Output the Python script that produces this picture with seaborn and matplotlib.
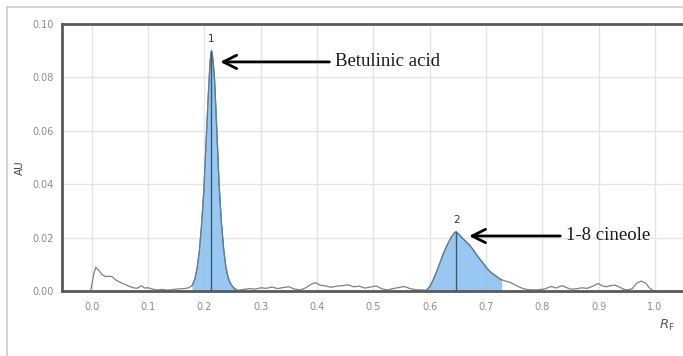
import numpy as np
import pandas as pd
import matplotlib
matplotlib.use("Agg")
import matplotlib.pyplot as plt
from matplotlib.lines import Line2D
import seaborn as sns

# ---------------- data ----------------
rf = [-0.002, 0.003, 0.007, 0.012, 0.018, 0.024, 0.030, 0.036, 0.042, 0.050,
      0.058, 0.066, 0.074, 0.080, 0.088, 0.094, 0.100, 0.106, 0.115, 0.125,
      0.135, 0.145, 0.155, 0.165, 0.172,
      0.178, 0.183, 0.187, 0.191, 0.195, 0.199, 0.203, 0.207, 0.210, 0.2125,
      0.215, 0.218, 0.222, 0.226, 0.230, 0.234, 0.238, 0.242, 0.247, 0.252, 0.256,
      0.262, 0.270, 0.280, 0.290, 0.300, 0.310, 0.320, 0.330, 0.340, 0.350,
      0.360, 0.370, 0.380, 0.390, 0.398, 0.405, 0.415, 0.425, 0.435, 0.445,
      0.455, 0.465, 0.475, 0.485, 0.495, 0.505, 0.515, 0.525, 0.535, 0.545,
      0.555, 0.565, 0.575, 0.585, 0.594,
      0.600, 0.606, 0.612, 0.618, 0.624, 0.631, 0.638, 0.644, 0.647, 0.652,
      0.658, 0.664, 0.671, 0.678, 0.686, 0.695, 0.703, 0.711, 0.718, 0.724, 0.728,
      0.735, 0.742, 0.750, 0.758, 0.766, 0.775, 0.785, 0.795, 0.805, 0.812,
      0.817, 0.824, 0.830, 0.835, 0.842, 0.850, 0.860, 0.870, 0.880, 0.890,
      0.899, 0.907, 0.914, 0.921, 0.929, 0.937, 0.945, 0.952, 0.960, 0.968,
      0.976, 0.984, 0.990, 0.996, 1.000]
au = [0.0, 0.0060, 0.0089, 0.0078, 0.0062, 0.0054, 0.0055, 0.0054, 0.0042, 0.0033,
      0.0025, 0.0018, 0.0012, 0.0010, 0.0019, 0.0011, 0.0012, 0.0008, 0.0004, 0.0006,
      0.0003, 0.0006, 0.0008, 0.0009, 0.0012,
      0.0020, 0.0045, 0.0085, 0.0150, 0.0250, 0.0380, 0.0560, 0.0740, 0.0860, 0.0900,
      0.0870, 0.0790, 0.0600, 0.0400, 0.0260, 0.0160, 0.0090, 0.0050, 0.0025, 0.0012, 0.0006,
      0.0003, 0.0006, 0.0009, 0.0007, 0.0012, 0.0010, 0.0015, 0.0009, 0.0013, 0.0016,
      0.0007, 0.0004, 0.0012, 0.0026, 0.0031, 0.0022, 0.0019, 0.0014, 0.0018, 0.0020,
      0.0023, 0.0016, 0.0018, 0.0011, 0.0015, 0.0019, 0.0008, 0.0004, 0.0009, 0.0013,
      0.0017, 0.0009, 0.0005, 0.0004, 0.0003,
      0.0015, 0.0040, 0.0070, 0.0104, 0.0138, 0.0172, 0.0200, 0.0218, 0.0222, 0.0212,
      0.0198, 0.0186, 0.0172, 0.0152, 0.0128, 0.0104, 0.0082, 0.0066, 0.0056, 0.0046, 0.0042,
      0.0037, 0.0033, 0.0025, 0.0016, 0.0009, 0.0005, 0.0004, 0.0005, 0.0008, 0.0014,
      0.0017, 0.0011, 0.0016, 0.0020, 0.0014, 0.0007, 0.0008, 0.0012, 0.0010, 0.0018,
      0.0028, 0.0019, 0.0016, 0.0020, 0.0022, 0.0015, 0.0006, 0.0004, 0.0009, 0.0030,
      0.0037, 0.0029, 0.0012, 0.0003, 0.0]

peak_labels = ["1", "2"]
peak_rf = [0.2125, 0.647]
peak_au = [0.0900, 0.0222]
peak_start = [0.175, 0.594]
peak_end = [0.256, 0.728]
compound_names = ["Betulinic acid", "1-8 cineole"]
arrow_head_rf = [0.228, 0.670]
arrow_head_au = [0.0858, 0.0206]
arrow_tail_rf = [0.422, 0.832]

x_ticks = [0.0, 0.1, 0.2, 0.3, 0.4, 0.5, 0.6, 0.7, 0.8, 0.9, 1.0]
y_ticks = [0.00, 0.02, 0.04, 0.06, 0.08, 0.10]

df = pd.DataFrame({"Rf": rf, "AU": au})

# ---------------- figure ----------------
sns.set_style("white")
plt.rcParams["font.family"] = ["DejaVu Sans"]

fig = plt.figure(figsize=(6.83, 3.56), dpi=100)
ax = fig.add_axes([62 / 683, 1 - 291 / 356, 621 / 683, 267 / 356])

x = np.array(rf)
y = np.array(au)
for s, e in zip(peak_start, peak_end):
    m = (x >= s - 1e-9) & (x <= e + 1e-9)
    ax.fill_between(x[m], 0, y[m], color="#86bff0", alpha=0.85, lw=0, zorder=2)
    ax.plot(x[m], y[m], color="#5b7e9c", lw=0.9, zorder=3)

sns.lineplot(data=df, x="Rf", y="AU", color="#808080", lw=0.9, ax=ax,
             zorder=2.5, sort=False)

for pr, pa, lab in zip(peak_rf, peak_au, peak_labels):
    ax.plot([pr, pr], [0, pa], color="#3c5870", lw=1.0, zorder=4)
    ax.text(pr, pa + 0.0025, lab, ha="center", va="bottom", fontsize=7.5,
            color="#333333", zorder=5)

for name, hx, hy, tx in zip(compound_names, arrow_head_rf, arrow_head_au, arrow_tail_rf):
    ax.annotate("", xy=(hx, hy), xytext=(tx, hy),
                arrowprops=dict(arrowstyle="->", color="black", lw=2.0,
                                mutation_scale=24, shrinkA=0, shrinkB=0),
                zorder=6)
    ax.text(tx + 0.01, hy, name, ha="left", va="center", fontsize=13.5,
            family="Liberation Serif", color="#1a1a1a", zorder=6)

ax.set_xlim(-0.053, 1.05)
ax.set_ylim(0, 0.10)
ax.set_xticks(x_ticks)
ax.set_xticklabels([f"{v:.1f}" for v in x_ticks])
ax.set_yticks(y_ticks)
ax.set_yticklabels([f"{v:.2f}" for v in y_ticks])
ax.tick_params(axis="both", length=0, labelsize=7, labelcolor="#8a8a8a")
ax.tick_params(axis="x", pad=8)
ax.tick_params(axis="y", pad=6)
ax.grid(True, color="#e4e4e4", lw=1.0, zorder=0)
ax.set_axisbelow(True)

for side in ["left", "bottom", "top"]:
    ax.spines[side].set_color("#5a5a5a")
    ax.spines[side].set_linewidth(2.0)
ax.spines["right"].set_visible(False)

ax.set_xlabel("")
ax.set_ylabel("")
fig.text(20 / 683, 1 - 168 / 356, "AU", rotation=90, ha="center", va="center",
         fontsize=7.5, color="#444444")
fig.text(667 / 683, 1 - 325 / 356, r"$R_\mathrm{F}$", ha="center", va="center",
         fontsize=9.5, color="#555555")

# outer frame lines of the figure panel
fig.add_artist(Line2D([7 / 683, 1], [1 - 7 / 356, 1 - 7 / 356], color="#cccccc", lw=1.2))
fig.add_artist(Line2D([7 / 683, 7 / 683], [0, 1 - 7 / 356], color="#cccccc", lw=1.2))

fig.savefig("out.png", dpi=100)
